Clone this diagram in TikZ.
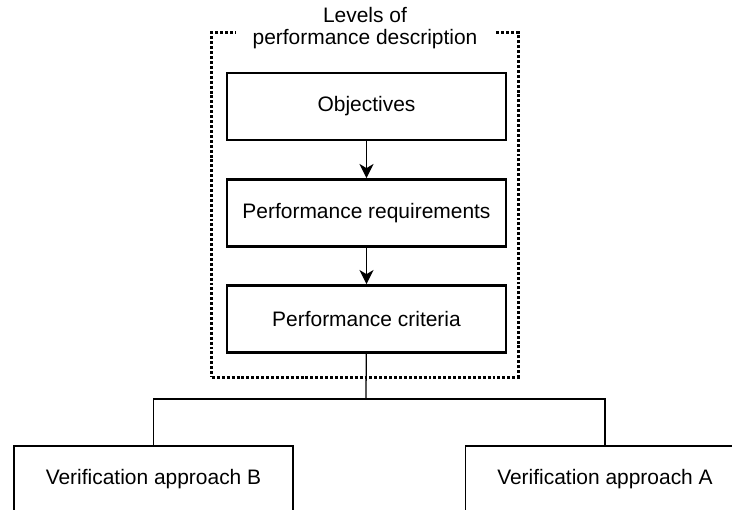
\documentclass[tikz,border=0pt]{standalone}
\usepackage{fontspec}
\setmainfont{Liberation Sans}
\usepackage{tikz}
\usetikzlibrary{shapes,arrows.meta}
\tikzstyle{level} = [rectangle, draw, line width = 2pt, text centered, minimum width = 6.975cm, minimum height = 1.675cm]
\tikzstyle{approach} = [rectangle, draw, line width = 0.9pt, text centered, minimum width = 6.975cm, minimum height = 1.675cm]
\tikzstyle{levelframe} = [rectangle, draw, line width = 2.1pt, dash pattern = on 2.1pt off 1.4pt, minimum width = 7.65cm, minimum height = 8.6cm]
\tikzstyle{link} = [draw, line width = 0.9pt]

\begin{document}
\begin{tikzpicture}[x=0.025cm, y=-0.025cm]
\tikzstyle{every node}=[font=\fontsize{14.9}{15.8}\selectfont];
\useasboundingbox (0,0) rectangle (732,510);
\node [levelframe] (frame) at (365,205) {};
\node [fill = white, align = center, inner xsep = 12pt, inner ysep = 1pt] (title) at (365,28) {Levels of\\performance description};
\node [level] (objectives) at (366.5,106.5) {Objectives};
\node [level, below of = objectives, node distance = 2.66cm] (requirements) {Performance requirements};
\node [level, below of = requirements, node distance = 2.65cm] (criteria) {Performance criteria};
\node [approach] (approachB) at (153.5,479.5) {Verification approach B};
\node [approach] (approachA) at (605,479.5) {Verification approach A};
\coordinate (split) at (366,399);
\draw [link, -{Stealth[length=10pt, width=10pt, inset=3pt]}] (objectives) -- (requirements);
\draw [link, -{Stealth[length=10pt, width=10pt, inset=3pt]}] (requirements) -- (criteria);
\draw [link] (criteria) -- (split);
\draw [link] (approachB) |- (split) -| (approachA);
\end{tikzpicture}
\end{document}
